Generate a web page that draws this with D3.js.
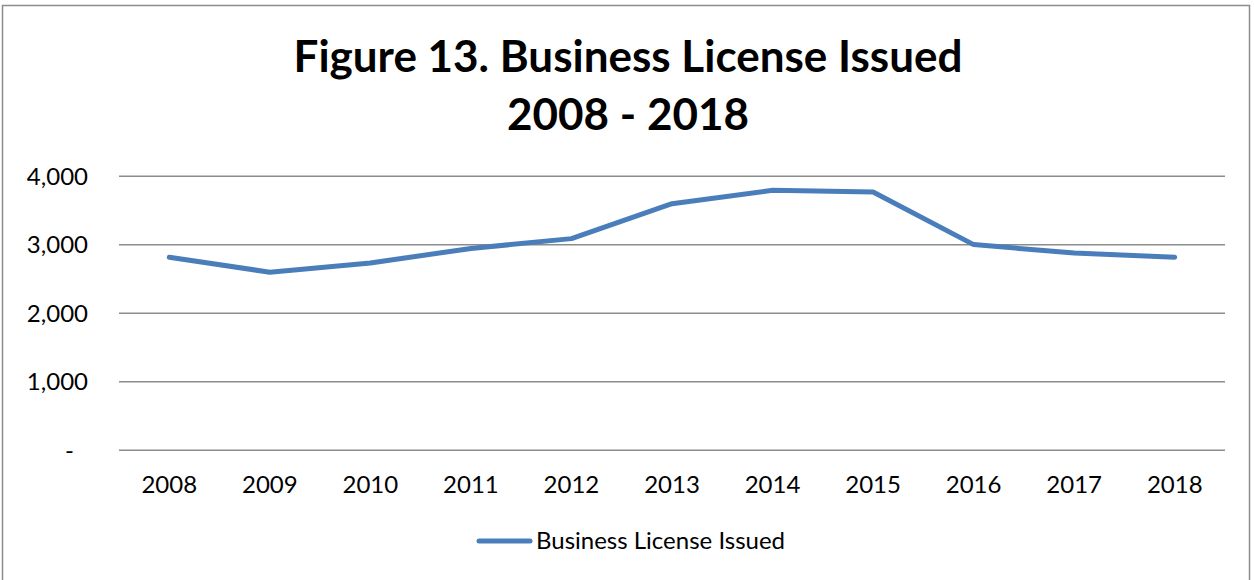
<!DOCTYPE html>
<html><head><meta charset="utf-8">
<script src="https://cdn.jsdelivr.net/npm/d3@7"></script>
<style>body{margin:0;background:#fff}svg{display:block}text{font-family:Lato,"Open Sans",sans-serif}</style>
</head><body><svg id="c" width="1254" height="580"></svg>
<script>
const years = ["2008","2009","2010","2011","2012","2013","2014","2015","2016","2017","2018"];
const licenses = [2818,2600,2735,2947,3090,3600,3795,3770,3003,2880,2818];
const yTicks = [0,1000,2000,3000,4000];
const seriesName = "Business License Issued";
const titleLines = ["Figure 13. Business License Issued","2008 - 2018"];

const svg = d3.select("#c");
svg.append("rect").attr("x",2.5).attr("y",5.5).attr("width",1247).attr("height",590)
  .attr("fill","#fff").attr("stroke","#8c8c8c").attr("stroke-width",1.5);

const L=119,R=1225,T=176.3,B=450.3;
const x = d3.scaleBand().domain(years).range([L,R]);
const y = d3.scaleLinear().domain([0,4000]).range([B,T]);

svg.append("g").selectAll("line").data(yTicks).join("line")
  .attr("x1",L).attr("x2",R).attr("y1",d=>y(d)).attr("y2",d=>y(d))
  .attr("stroke","#8c8c8c").attr("stroke-width",1.5);

const fmt = d3.format(",");
svg.append("g").selectAll("text").data(yTicks).join("text")
  .attr("x",88).attr("y",d=>y(d)+8.5).attr("text-anchor","end")
  .attr("font-size",24).attr("fill","#000")
  .text(d=>d===0?"-":fmt(d)).attr("dx",d=>d===0?-14:0);

svg.append("g").selectAll("text").data(years).join("text")
  .attr("x",d=>x(d)+x.bandwidth()/2).attr("y",493).attr("text-anchor","middle")
  .attr("font-size",24).attr("fill","#000").text(d=>d);

const line = d3.line().x((d,i)=>x(years[i])+x.bandwidth()/2).y(d=>y(d));
svg.append("path").datum(licenses).attr("d",line).attr("fill","none")
  .attr("stroke","#4a7ebb").attr("stroke-width",5).attr("stroke-linecap","round").attr("stroke-linejoin","round");

svg.append("line").attr("x1",479).attr("x2",530).attr("y1",541).attr("y2",541)
  .attr("stroke","#4a7ebb").attr("stroke-width",5).attr("stroke-linecap","round");
svg.append("text").attr("x",536).attr("y",549).attr("font-size",24).text(seriesName);

svg.selectAll(".title").data(titleLines).join("text").attr("class","title")
  .attr("x",628).attr("y",(d,i)=>72+i*58).attr("text-anchor","middle")
  .attr("font-size",44).attr("font-weight","bold").text(d=>d);
</script></body></html>
